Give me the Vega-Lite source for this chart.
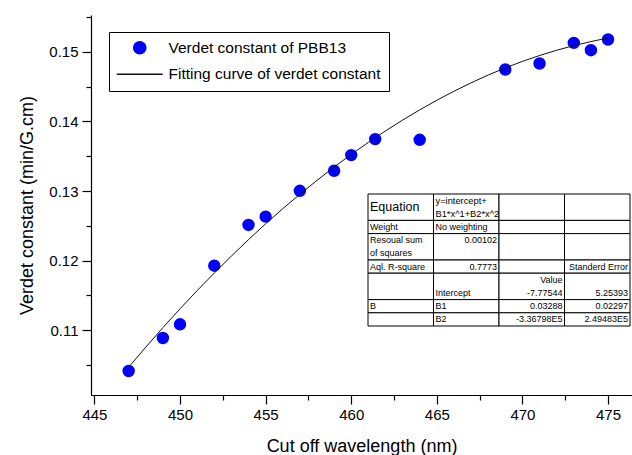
{
  "$schema": "https://vega.github.io/schema/vega-lite/v6.json",
  "width": 541,
  "height": 380,
  "autosize": {"type": "none"},
  "padding": {"left": 91, "top": 15, "right": 0, "bottom": 60},
  "background": "white",
  "config": {
    "view": {"stroke": null},
    "font": "Liberation Sans",
    "axis": {
      "grid": false,
      "domainColor": "black",
      "domainWidth": 1.2,
      "tickColor": "black",
      "tickWidth": 1.2,
      "labelColor": "black",
      "titleColor": "black",
      "labelFont": "Liberation Sans",
      "titleFont": "Liberation Sans",
      "labelFontSize": 15,
      "titleFontSize": 18,
      "titleFontWeight": "normal"
    }
  },
  "datasets": {
    "points": [
      {"wavelength": 447, "verdet": 0.10415, "series": "Verdet constant of PBB13"},
      {"wavelength": 449, "verdet": 0.10889, "series": "Verdet constant of PBB13"},
      {"wavelength": 450, "verdet": 0.11086, "series": "Verdet constant of PBB13"},
      {"wavelength": 452, "verdet": 0.11928, "series": "Verdet constant of PBB13"},
      {"wavelength": 454, "verdet": 0.12513, "series": "Verdet constant of PBB13"},
      {"wavelength": 455, "verdet": 0.12633, "series": "Verdet constant of PBB13"},
      {"wavelength": 457, "verdet": 0.13004, "series": "Verdet constant of PBB13"},
      {"wavelength": 459, "verdet": 0.13292, "series": "Verdet constant of PBB13"},
      {"wavelength": 460, "verdet": 0.13517, "series": "Verdet constant of PBB13"},
      {"wavelength": 461.4, "verdet": 0.13747, "series": "Verdet constant of PBB13"},
      {"wavelength": 464, "verdet": 0.13737, "series": "Verdet constant of PBB13"},
      {"wavelength": 469, "verdet": 0.14747, "series": "Verdet constant of PBB13"},
      {"wavelength": 471, "verdet": 0.14833, "series": "Verdet constant of PBB13"},
      {"wavelength": 473, "verdet": 0.15129, "series": "Verdet constant of PBB13"},
      {"wavelength": 474, "verdet": 0.15024, "series": "Verdet constant of PBB13"},
      {"wavelength": 475, "verdet": 0.15178, "series": "Verdet constant of PBB13"}
    ],
    "curve": [
      {"wavelength": 447, "verdet": 0.1047, "series": "Fitting curve of verdet constant"},
      {"wavelength": 449, "verdet": 0.11038, "series": "Fitting curve of verdet constant"},
      {"wavelength": 451, "verdet": 0.1157, "series": "Fitting curve of verdet constant"},
      {"wavelength": 453, "verdet": 0.12066, "series": "Fitting curve of verdet constant"},
      {"wavelength": 455, "verdet": 0.1253, "series": "Fitting curve of verdet constant"},
      {"wavelength": 457, "verdet": 0.12954, "series": "Fitting curve of verdet constant"},
      {"wavelength": 459, "verdet": 0.13345, "series": "Fitting curve of verdet constant"},
      {"wavelength": 461, "verdet": 0.137, "series": "Fitting curve of verdet constant"},
      {"wavelength": 463, "verdet": 0.1402, "series": "Fitting curve of verdet constant"},
      {"wavelength": 465, "verdet": 0.14305, "series": "Fitting curve of verdet constant"},
      {"wavelength": 467, "verdet": 0.14555, "series": "Fitting curve of verdet constant"},
      {"wavelength": 469, "verdet": 0.1477, "series": "Fitting curve of verdet constant"},
      {"wavelength": 471, "verdet": 0.14948, "series": "Fitting curve of verdet constant"},
      {"wavelength": 473, "verdet": 0.1509, "series": "Fitting curve of verdet constant"},
      {"wavelength": 475, "verdet": 0.152, "series": "Fitting curve of verdet constant"}
    ],
    "cells": [
      {"col": "c1", "top": "eq1", "bottom": "eq2", "t": "Equation"},
      {"col": "c1", "top": "weight", "bottom": "weight", "t": "Weight"},
      {"col": "c1", "top": "res1", "bottom": "res2", "t": ["Resoual sum", "of squares"]},
      {"col": "c1", "top": "rsq", "bottom": "rsq", "t": "Aql. R-square"},
      {"col": "c1", "top": "value", "bottom": "intercept", "t": ""},
      {"col": "c1", "top": "b1", "bottom": "b1", "t": "B"},
      {"col": "c1", "top": "b2", "bottom": "b2", "t": ""},
      {"col": "c2", "top": "eq1", "bottom": "eq2", "t": ["y=intercept+", "B1*x^1+B2*x^2"]},
      {"col": "c2", "top": "weight", "bottom": "weight", "t": "No weighting"},
      {"col": "c2", "top": "res1", "bottom": "res2", "t": "0.00102"},
      {"col": "c2", "top": "rsq", "bottom": "rsq", "t": "0.7773"},
      {"col": "c2", "top": "value", "bottom": "intercept", "t": ["", "Intercept"]},
      {"col": "c2", "top": "b1", "bottom": "b1", "t": "B1"},
      {"col": "c2", "top": "b2", "bottom": "b2", "t": "B2"},
      {"col": "c3", "top": "eq1", "bottom": "eq2", "t": ""},
      {"col": "c3", "top": "weight", "bottom": "weight", "t": ""},
      {"col": "c3", "top": "res1", "bottom": "res2", "t": ""},
      {"col": "c3", "top": "rsq", "bottom": "rsq", "t": ""},
      {"col": "c3", "top": "value", "bottom": "intercept", "t": ["Value", "-7.77544"]},
      {"col": "c3", "top": "b1", "bottom": "b1", "t": "0.03288"},
      {"col": "c3", "top": "b2", "bottom": "b2", "t": "-3.36798E5"},
      {"col": "c4", "top": "eq1", "bottom": "eq2", "t": ""},
      {"col": "c4", "top": "weight", "bottom": "weight", "t": ""},
      {"col": "c4", "top": "res1", "bottom": "res2", "t": ""},
      {"col": "c4", "top": "rsq", "bottom": "rsq", "t": "Standerd Error"},
      {"col": "c4", "top": "value", "bottom": "intercept", "t": ["", "5.25393"]},
      {"col": "c4", "top": "b1", "bottom": "b1", "t": "0.02297"},
      {"col": "c4", "top": "b2", "bottom": "b2", "t": "2.49483E5"}
    ]
  },
  "layer": [
    {
      "layer": [
        {
          "data": {"name": "points"},
          "mark": {"type": "point", "filled": true, "size": 154, "opacity": 1},
          "encoding": {
            "x": {
              "field": "wavelength",
              "type": "quantitative",
              "scale": {"domain": [444.8, 476.4], "nice": false, "zero": false},
              "axis": {
                "title": "Cut off wavelength (nm)",
                "values": [445, 447.5, 450, 452.5, 455, 457.5, 460, 462.5, 465, 467.5, 470, 472.5, 475],
                "labelExpr": "datum.value % 5 == 0 ? datum.label : ''",
                "tickSize": {"condition": {"test": "datum.value % 5 == 0", "value": 9}, "value": 5},
                "labelPadding": 3,
                "labelFlush": false,
                "labelOverlap": false,
                "titlePadding": 15
              }
            },
            "y": {
              "field": "verdet",
              "type": "quantitative",
              "scale": {"domain": [0.1007, 0.1553], "nice": false, "zero": false},
              "axis": {
                "orient": "left",
                "title": "Verdet constant (min/G.cm)",
                "values": [0.11, 0.12, 0.13, 0.14, 0.15],
                "format": ".2f",
                "tickSize": 9,
                "labelPadding": 4,
                "labelFlush": false,
                "labelOverlap": false,
                "titlePadding": 12
              }
            },
            "color": {
              "field": "series",
              "type": "nominal",
              "scale": {"domain": ["Verdet constant of PBB13", "Fitting curve of verdet constant"], "range": ["#0000ff", "#111111"]},
              "legend": {
                "title": null,
                "orient": "none",
                "legendX": 18,
                "legendY": 17,
                "padding": 8,
                "rowPadding": 9.5,
                "symbolSize": 150,
                "symbolOffset": 15,
                "labelOffset": 21,
                "labelFontSize": 15.5,
                "labelFont": "Liberation Sans",
                "labelColor": "black",
                "labelLimit": 400,
                "strokeColor": "black",
                "fillColor": "white",
                "encode": {
                  "symbols": {"update": {"stroke": {"scale": "color", "field": "value"}, "strokeWidth": {"value": 1.2}}},
                  "legend": {"update": {"strokeWidth": {"value": 1.3}}}
                }
              }
            },
            "shape": {
              "field": "series",
              "type": "nominal",
              "scale": {"domain": ["Verdet constant of PBB13", "Fitting curve of verdet constant"], "range": ["circle", "M-3.75,0H3.75"]}
            }
          }
        },
        {
          "data": {"name": "curve"},
          "mark": {"type": "line", "strokeWidth": 1, "interpolate": "monotone"},
          "encoding": {
            "x": {"field": "wavelength", "type": "quantitative", "scale": {"domain": [444.8, 476.4], "nice": false, "zero": false}},
            "y": {
              "field": "verdet",
              "type": "quantitative",
              "scale": {"domain": [0.1007, 0.1553], "nice": false, "zero": false},
              "axis": {
                "orient": "left",
                "title": null,
                "values": [0.105, 0.115, 0.125, 0.135, 0.145, 0.155],
                "labels": false,
                "domain": false,
                "tickSize": 5
              }
            },
            "color": {"field": "series", "type": "nominal"}
          }
        }
      ],
      "resolve": {"axis": {"y": "independent"}}
    },
    {
      "data": {"name": "cells"},
      "encoding": {
        "x": {
          "field": "col",
          "type": "nominal",
          "scale": {"type": "band", "domain": ["c1", "c2", "c3", "c4"], "range": [277, 539], "paddingInner": 0, "paddingOuter": 0},
          "axis": null
        },
        "y": {
          "field": "top",
          "type": "nominal",
          "scale": {"type": "band", "domain": ["eq1", "eq2", "weight", "res1", "res2", "rsq", "value", "intercept", "b1", "b2"], "range": [179, 311], "paddingInner": 0, "paddingOuter": 0},
          "axis": null
        }
      },
      "layer": [
        {
          "mark": {"type": "rect", "fill": "white", "stroke": "black", "strokeWidth": 1},
          "encoding": {
            "y": {"field": "top", "type": "nominal", "bandPosition": 0},
            "y2": {"field": "bottom", "bandPosition": 1}
          }
        },
        {
          "transform": [{"filter": "!(datum.col == 'c3' || datum.col == 'c4' || isFinite(toNumber(datum.t))) && !(datum.top == 'eq1' && datum.col == 'c1')"}],
          "mark": {"type": "text", "align": "left", "baseline": "middle", "dx": 2, "lineHeight": 13.2, "font": "Liberation Sans", "color": "black"},
          "encoding": {
            "x": {"field": "col", "type": "nominal", "bandPosition": 0},
            "text": {"field": "t"},
            "size": {"condition": {"test": "datum.top == 'eq1'", "value": 9.3}, "value": 9}
          }
        },
        {
          "transform": [{"filter": "datum.top == 'eq1' && datum.col == 'c1'"}],
          "mark": {"type": "text", "align": "left", "baseline": "middle", "dx": 2, "font": "Liberation Sans", "color": "black", "size": 12.5},
          "encoding": {
            "x": {"field": "col", "type": "nominal", "bandPosition": 0},
            "y": {"field": "top", "type": "nominal", "bandPosition": 1},
            "text": {"field": "t"}
          }
        },
        {
          "transform": [{"filter": "datum.col == 'c3' || datum.col == 'c4' || isFinite(toNumber(datum.t))"}],
          "mark": {"type": "text", "align": "right", "baseline": "middle", "dx": -2, "lineHeight": 13.2, "font": "Liberation Sans", "color": "black", "size": 9},
          "encoding": {
            "x": {"field": "col", "type": "nominal", "bandPosition": 1},
            "text": {"field": "t"}
          }
        }
      ]
    }
  ],
  "resolve": {"scale": {"x": "independent", "y": "independent"}}
}
